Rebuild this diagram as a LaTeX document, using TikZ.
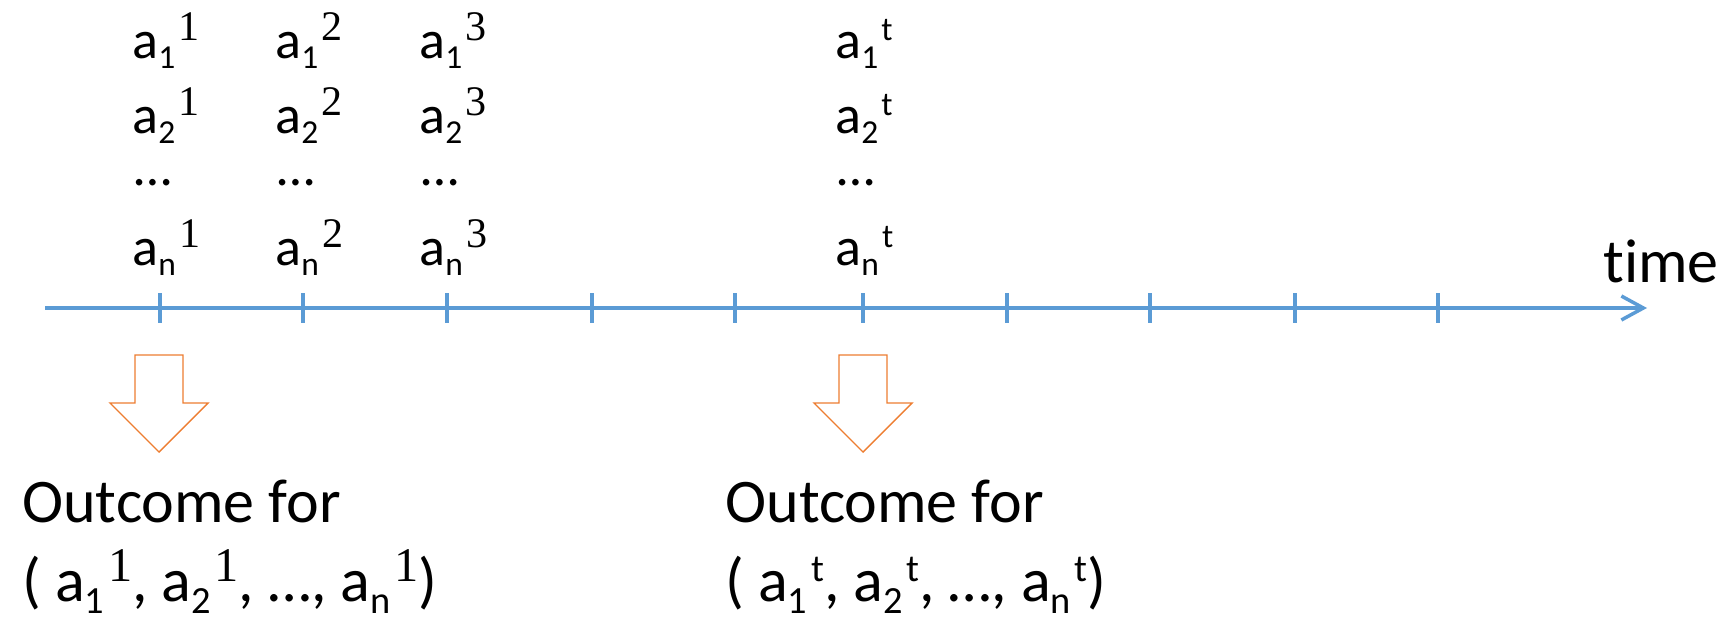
\documentclass[tikz,border=0pt]{standalone}
\usepackage{fontspec}
\setmainfont[Ligatures=NoCommon]{Carlito}
\newfontfamily\serifdigits{Liberation Serif}
\usepackage{graphicx}
\usetikzlibrary{arrows.meta}

\definecolor{axisblue}{HTML}{5B9BD5}
\definecolor{outorange}{HTML}{ED7D31}

\newcommand{\act}[2]{a\raisebox{-0.2em}{\scalebox{0.62}{#1}}\hspace{0.06em}\raisebox{0.32em}{#2}}
\newcommand{\rd}[1]{\scalebox{0.78}{\serifdigits #1}}
\newcommand{\tsup}{\scalebox{0.62}{t}}

\begin{document}
\begin{tikzpicture}[x=0.5pt, y=-0.5pt,
	axis/.style={draw=axisblue, line width=1.75pt},
	lab/.style={inner sep=0pt, anchor=base west, font=\fontsize{27}{32}\selectfont},
	big/.style={inner sep=0pt, anchor=base west, font=\fontsize{31}{37}\selectfont},
	blockarrow/.style={draw=outorange, line width=0.7pt, line join=miter}]
	\useasboundingbox (0,0) rectangle (1728,616);

	% time axis
	\coordinate (start) at (45,308);
	\coordinate (end) at (1647,308);
	\draw[axis, -{Straight Barb[length=11pt, width=12pt]}] (start) -- (end);
	\foreach \x in {160,303,447,592,735,863,1007,1150,1295,1438}
		\draw[axis] (\x,293) -- (\x,323);
	\node[big] (time) at (1603,282) {time};

	% actions above the ticks
	\foreach \x/\s/\c in {160/{\rd{1}}/c1, 303/{\rd{2}}/c2, 447/{\rd{3}}/c3, 863/{\tsup}/ct}{
		\node[lab] (\c-1) at (\x-28,58) {\act{1}{\s}};
		\node[lab] (\c-2) at (\x-28,133) {\act{2}{\s}};
		\node[lab] (\c-d) at (\x-26,185) {…};
		\node[lab] (\c-n) at (\x-28,265) {\act{n}{\s}};
	}

	% outcome arrows
	\foreach \x in {159,863}
		\draw[blockarrow] (\x-24,355) -- (\x+24,355) -- (\x+24,403) -- (\x+49,403)
			-- (\x,452) -- (\x-49,403) -- (\x-24,403) -- cycle;

	\node[big] (out1) at (22,522) {Outcome for};
	\node[big] (args1) at (22,601) {( \act{1}{\rd{1}}, \act{2}{\rd{1}}, …, \act{n}{\rd{1}})};
	\node[big] (outt) at (725,522) {Outcome for};
	\node[big] (argst) at (725,601) {( \act{1}{\tsup}, \act{2}{\tsup}, …, \act{n}{\tsup})};
\end{tikzpicture}
\end{document}
